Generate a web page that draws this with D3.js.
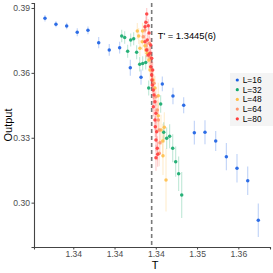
<!DOCTYPE html>
<html>
<head>
<meta charset="utf-8">
<script src="https://cdn.jsdelivr.net/npm/d3@7"></script>
<style>
  html, body { margin: 0; padding: 0; background: #fff; }
  svg { display: block; font-family: "Liberation Sans", Arial, sans-serif; }
</style>
</head>
<body>
<div class="chart"></div>
<script>
// L = 16
var t16 = [1.33157, 1.3329, 1.3342, 1.33548, 1.33678, 1.33808, 1.33936, 1.34062, 1.34191, 1.34321,
           1.34579, 1.34708, 1.34838, 1.34967, 1.35096, 1.35226, 1.35355, 1.35484, 1.35614, 1.35742];
var out16 = [0.38524, 0.38247, 0.38168, 0.37877, 0.37969, 0.37396, 0.37059, 0.37165, 0.3624, 0.358,
             0.35487, 0.34932, 0.34502, 0.33236, 0.33254, 0.32852, 0.32126, 0.3159, 0.31017, 0.29186];
var err16 = [0.0015, 0.0014, 0.0015, 0.0018, 0.0018, 0.0026, 0.0027, 0.0027, 0.0037, 0.0035,
             0.0034, 0.0038, 0.0037, 0.0055, 0.0055, 0.0046, 0.0063, 0.0066, 0.0066, 0.0077];

// L = 32
var t32 = [1.34087, 1.34123, 1.34159, 1.34196, 1.34232, 1.34268, 1.34305, 1.34341, 1.34378, 1.34414,
           1.34559, 1.34596, 1.34632, 1.34668, 1.34705, 1.34741, 1.34777, 1.34814];
var out32 = [0.37706, 0.37636, 0.36999, 0.37521, 0.37581, 0.36952, 0.36398, 0.36435, 0.36481, 0.35302,
             0.34562, 0.33254, 0.32977, 0.3307, 0.32515, 0.31895, 0.31336, 0.30356];
var err32 = [0.0029, 0.0029, 0.003, 0.003, 0.003, 0.0032, 0.0033, 0.0033, 0.0033, 0.0035,
             0.004, 0.0046, 0.005, 0.0055, 0.0065, 0.007, 0.008, 0.0106];

// L = 48
var t48 = [1.34276, 1.34293, 1.34339, 1.34308, 1.34336, 1.34369, 1.34381, 1.34397, 1.34418, 1.3443,
           1.34466, 1.3449, 1.3453, 1.3453, 1.34563, 1.34603, 1.34584, 1.34587, 1.34624];
var out48 = [0.37937, 0.37706, 0.37937, 0.37137, 0.37442, 0.37257, 0.37059, 0.36906, 0.36596, 0.36134,
             0.35672, 0.35302, 0.34946, 0.34022, 0.33361, 0.33485, 0.32852, 0.32173, 0.31049];
var err48 = [0.0037, 0.0037, 0.0038, 0.0038, 0.0038, 0.004, 0.004, 0.0042, 0.0045, 0.0048,
             0.005, 0.0055, 0.006, 0.0065, 0.007, 0.007, 0.008, 0.009, 0.0146];

// L = 64
var t64 = [1.34369, 1.34348, 1.34421, 1.3439, 1.3443, 1.3445, 1.34478, 1.34502, 1.34518, 1.3453,
           1.34542, 1.34551, 1.34542];
var out64 = [0.37983, 0.37673, 0.37368, 0.37059, 0.36749, 0.36134, 0.35519, 0.349, 0.34285, 0.33823,
             0.33361, 0.32774, 0.32284];
var err64 = [0.003, 0.003, 0.0032, 0.0033, 0.0035, 0.0038, 0.004, 0.0043, 0.0046, 0.005,
             0.0053, 0.0056, 0.006];

// L = 80
var t80 = [1.3439, 1.34381, 1.34409, 1.34369, 1.34418, 1.34397, 1.34369, 1.34438, 1.3439, 1.3443,
           1.34409, 1.3445, 1.34438, 1.34462, 1.3445, 1.34454, 1.34458, 1.3447, 1.34478, 1.3449,
           1.3447, 1.34502, 1.3449, 1.34494, 1.34511, 1.34502, 1.34518, 1.34523, 1.34502];
var out80 = [0.38723, 0.38339, 0.38182, 0.38136, 0.37844, 0.37521, 0.37442, 0.3729, 0.37059, 0.36906,
             0.36827, 0.36675, 0.36287, 0.36134, 0.35903, 0.35672, 0.35441, 0.3521, 0.34978, 0.34669,
             0.34438, 0.34133, 0.33823, 0.33513, 0.33282, 0.32898, 0.32515, 0.32237, 0.3208];
var err80 = [0.0028, 0.0028, 0.003, 0.003, 0.003, 0.0032, 0.0032, 0.0033, 0.0033, 0.0034,
             0.0035, 0.0035, 0.0037, 0.0038, 0.0039, 0.004, 0.004, 0.0042, 0.0043, 0.0044,
             0.0045, 0.0046, 0.0047, 0.0048, 0.005, 0.0052, 0.0055, 0.0058, 0.006];

var seriesNames = ["L=16", "L=32", "L=48", "L=64", "L=80"];
var seriesColors = ["#1a5fe3", "#14aa6c", "#ffbf4a", "#ff946e", "#ff3d3d"];

var xTicks = [1.335, 1.34, 1.345, 1.35, 1.355];
var xTickLabels = ["1.34", "1.34", "1.34", "1.35", "1.36"];
var yTicks = [0.30, 0.33, 0.36, 0.39];
var yTickLabels = ["0.30", "0.33", "0.36", "0.39"];

var tCritical = 1.3445;
var tCriticalLabel = "T' = 1.3445(6)";

var svgWidth = 273;
var svgHeight = 273;
var margin = {top: 3, right: 3, bottom: 26, left: 34};
var width = svgWidth - margin.left - margin.right;
var height = svgHeight - margin.top - margin.bottom;

var svg = d3.select(".chart")
  .append("svg")
  .attr("width", svgWidth)
  .attr("height", svgHeight);

var chartGroup = svg.append("g").attr("transform", `translate(${margin.left}, ${margin.top})`);

var xScale = d3.scaleLinear().domain([1.33024, 1.35884]).range([0, width]);
var yScale = d3.scaleLinear().domain([0.2795, 0.3923]).range([height, 0]);

// build series records
var allT = [t16, t32, t48, t64, t80];
var allOut = [out16, out32, out48, out64, out80];
var allErr = [err16, err32, err48, err64, err80];
var series = seriesNames.map(function(name, i) {
  return {
    name: name,
    color: seriesColors[i],
    points: allT[i].map(function(t, j) {
      return {t: t, out: allOut[i][j], err: allErr[i][j]};
    })
  };
});

// critical temperature line
chartGroup.append("line")
  .attr("x1", xScale(tCritical))
  .attr("x2", xScale(tCritical))
  .attr("y1", 0)
  .attr("y2", height)
  .attr("stroke", "#7a7a7a")
  .attr("stroke-width", 1.6)
  .attr("stroke-dasharray", "4,3");

// error bars
series.forEach(function(s) {
  chartGroup.append("g").selectAll("line")
    .data(s.points)
    .enter()
    .append("line")
    .attr("x1", d => xScale(d.t))
    .attr("x2", d => xScale(d.t))
    .attr("y1", d => yScale(d.out - d.err))
    .attr("y2", d => yScale(d.out + d.err))
    .attr("stroke", s.color)
    .attr("stroke-opacity", 0.28)
    .attr("stroke-width", 1.1);
});

// points
series.forEach(function(s) {
  chartGroup.append("g").selectAll("circle")
    .data(s.points)
    .enter()
    .append("circle")
    .attr("cx", d => xScale(d.t))
    .attr("cy", d => yScale(d.out))
    .attr("r", 1.75)
    .attr("fill", s.color)
    .attr("fill-opacity", 0.9);
});

// axes
var xAxis = d3.axisBottom(xScale).tickValues(xTicks).tickSize(2.5).tickPadding(1.5)
  .tickFormat((d, i) => xTickLabels[i]);
var yAxis = d3.axisLeft(yScale).tickValues(yTicks).tickSize(2.5).tickPadding(1.5)
  .tickFormat((d, i) => yTickLabels[i]);

var gx = chartGroup.append("g").attr("transform", `translate(0, ${height})`).call(xAxis);
var gy = chartGroup.append("g").call(yAxis);

[gx, gy].forEach(function(g) {
  g.select(".domain").attr("stroke", "#444").attr("stroke-width", 1.1);
  g.selectAll(".tick line").attr("stroke", "#444");
  g.selectAll(".tick text")
    .attr("fill", "#4d4d4d")
    .style("font-size", "8.6px")
    .style("font-family", "Liberation Sans, Arial, sans-serif");
});

// axis titles
chartGroup.append("text")
  .attr("transform", "rotate(-90)")
  .attr("x", -height / 2)
  .attr("y", -margin.left + 12)
  .attr("text-anchor", "middle")
  .style("font-size", "11px")
  .text("Output");

chartGroup.append("text")
  .attr("x", width / 2 + 3)
  .attr("y", height + 22)
  .attr("text-anchor", "middle")
  .style("font-size", "11px")
  .text("T");

// annotation
chartGroup.append("text")
  .attr("x", xScale(tCritical) + 6)
  .attr("y", 36)
  .style("font-size", "9.4px")
  .text(tCriticalLabel);

// legend
var legend = chartGroup.append("g").attr("transform", `translate(${196}, ${70})`);
legend.append("rect")
  .attr("width", 43)
  .attr("height", 53)
  .attr("fill", "#f4f4f4");

var items = legend.selectAll("g.item")
  .data(series)
  .enter()
  .append("g")
  .attr("class", "item")
  .attr("transform", (d, i) => `translate(0, ${7 + i * 9.7})`);

items.append("circle")
  .attr("cx", 7.3)
  .attr("cy", 0)
  .attr("r", 1.6)
  .attr("fill", d => d.color);

items.append("text")
  .attr("x", 12.7)
  .attr("y", 0)
  .attr("dy", "0.35em")
  .style("font-size", "8.4px")
  .text(d => d.name);
</script>
</body>
</html>
